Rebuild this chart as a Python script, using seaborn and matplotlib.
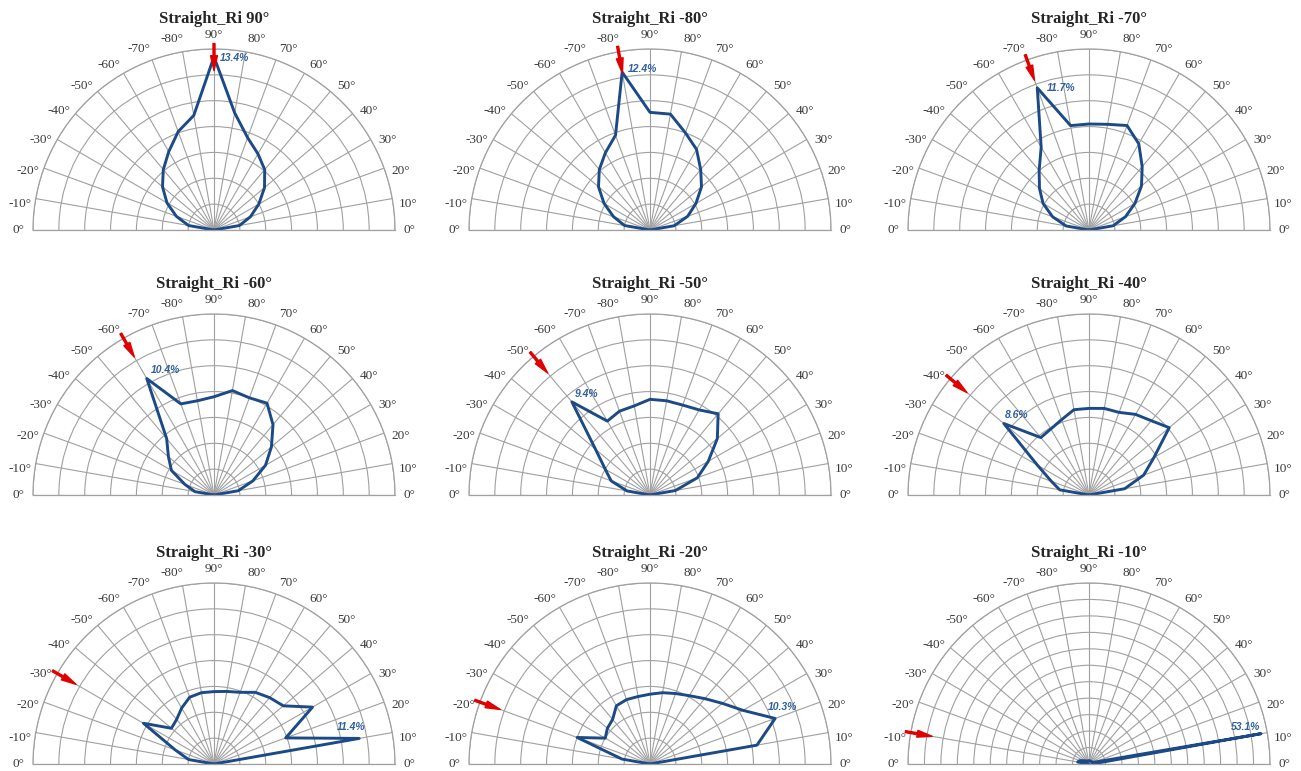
import numpy as np
import pandas as pd
import matplotlib
matplotlib.use("Agg")
import matplotlib.pyplot as plt
import seaborn as sns

sns.set_style("white")

# -----------------------------------------------------------
# DATA
# -----------------------------------------------------------
# measurement direction on the half circle: 0 = right, 90 = top, 180 = left
angle_deg = [0, 10, 20, 30, 40, 50, 60, 70, 80, 90,
             100, 110, 120, 130, 140, 150, 160, 170, 180]
angle_labels = ['0°', '10°', '20°', '30°', '40°', '50°', '60°', '70°', '80°', '90°',
                '-80°', '-70°', '-60°', '-50°', '-40°', '-30°', '-20°', '-10°', '0°']

# incidence angle of each panel (shown in the title and with the red arrow)
incidence = [90, -80, -70, -60, -50, -40, -30, -20, -10]

# share of reflected light (%) for each direction in angle_deg
ri_90 = [0, 2.0, 3.0, 4.0, 5.1, 6.1, 6.8, 7.6, 9.2, 13.4, 9.0, 8.1, 7.0, 6.1, 5.2, 4.2, 3.1, 2.0, 0]
ri_m80 = [0, 1.9, 3.1, 4.1, 5.2, 6.1, 7.2, 8.0, 9.1, 9.1, 12.4, 7.8, 6.9, 6.1, 5.2, 4.1, 3.0, 2.0, 0]
ri_m70 = [0, 1.9, 3.0, 4.1, 5.3, 6.4, 7.7, 8.6, 8.3, 8.2, 8.2, 11.7, 7.4, 6.0, 5.0, 4.1, 3.0, 1.8, 0]
ri_m60 = [0, 1.9, 3.2, 4.6, 5.8, 7.1, 8.2, 8.0, 8.2, 7.6, 7.4, 7.5, 10.4, 5.7, 4.6, 3.8, 2.4, 1.5, 0]
ri_m50 = [0, 2.0, 3.9, 5.2, 6.8, 8.2, 7.6, 7.4, 7.4, 7.4, 7.0, 6.9, 6.6, 9.4, 5.5, 4.0, 3.2, 1.8, 0]
ri_m40 = [0, 2.8, 4.5, 5.8, 8.1, 7.5, 7.2, 6.8, 6.8, 6.7, 6.7, 6.2, 5.9, 5.8, 8.6, 4.6, 3.1, 2.3, 0]
ri_m30 = [0, 11.4, 5.9, 8.8, 7.0, 6.7, 6.4, 5.9, 5.7, 5.6, 5.6, 5.5, 5.0, 4.5, 4.3, 6.3, 3.2, 2.0, 0]
ri_m20 = [0, 8.4, 10.3, 8.3, 7.3, 6.6, 6.1, 5.8, 5.6, 5.4, 5.3, 5.3, 5.2, 4.5, 4.3, 4.0, 6.0, 2.2, 0]
ri_m10 = [1.0, 53.1, 1.5, 1.2, 1.0, 1.0, 1.0, 1.0, 1.0, 1.0, 1.0, 1.0, 1.0, 1.2, 1.5, 2.0, 3.0, 3.5, 0]

series = [ri_90, ri_m80, ri_m70, ri_m60, ri_m50, ri_m40, ri_m30, ri_m20, ri_m10]

# -----------------------------------------------------------
# LAYOUT / STYLE
# -----------------------------------------------------------
W, H = 1301, 771
R = 181                      # radius of each half circle in pixels
col_x = [214, 650, 1089]     # centre x of each column
row_y = [230, 495, 764]      # centre y (baseline) of each row

line_color = '#1b4a87'
label_color = '#2f5f9f'
grid_color = '#a0a0a0'
arrow_color = '#e00000'

# percentage label: offset in points and horizontal alignment
label_offset = [(4, -1), (4, 2), (7, 0), (3, 6), (2, 6), (1, 6), (-6, 8), (5, 8), (-11, 5)]
label_ha = ['left', 'left', 'left', 'left', 'left', 'left', 'center', 'center', 'center']

fig = plt.figure(figsize=(W / 100, H / 100), dpi=100)

for i, values in enumerate(series):
    cx = col_x[i % 3]
    cy = row_y[i // 3]
    # a half-circle polar axes keeps a square box, the half circle sits in its middle
    ax = fig.add_axes([(cx - R) / W, (H - cy - R / 2) / H, 2 * R / W, 2 * R / H],
                      projection='polar')

    # the last panel has a much stronger peak, so it gets a bigger scale
    if max(values) > 20:
        rmax, step = 55, 5
    else:
        rmax, step = 14, 2

    df = pd.DataFrame({"theta": np.deg2rad(angle_deg), "r": values})
    sns.lineplot(data=df, x="theta", y="r", ax=ax, sort=False, estimator=None,
                 color=line_color, linewidth=2.1)
    ax.set_xlabel("")
    ax.set_ylabel("")

    ax.set_thetamin(0)
    ax.set_thetamax(180)
    ax.set_ylim(0, rmax)
    ax.set_yticks(np.arange(step, rmax + 0.01, step))
    ax.set_yticklabels([])
    ax.set_thetagrids(angle_deg, [''] * len(angle_deg))
    ax.grid(True, color=grid_color, linewidth=0.8)
    for s in ax.spines.values():
        s.set_color(grid_color)
        s.set_linewidth(0.9)

    # angle labels, pushed a little towards the baseline like in the original
    for a, lab in zip(angle_deg, angle_labels):
        if a in (0, 90, 180):
            shift = 0
        elif a < 90:
            shift = -2.5
        else:
            shift = 2.5
        ax.text(np.deg2rad(a + shift), 1.08 * rmax, lab, ha='center', va='center',
                fontfamily='Liberation Serif', fontsize=9.5, color='#3a3a3a', clip_on=False)

    ax.set_title(f"Straight_Ri {incidence[i]}°", fontfamily='Liberation Serif',
                 fontweight='bold', fontsize=12, y=0.811, va='center')

    # red arrow showing the incidence direction
    inc = incidence[i] if incidence[i] >= 0 else 180 + incidence[i]
    ax.annotate('', xy=(np.deg2rad(inc), 0.88 * rmax), xytext=(np.deg2rad(inc), 1.03 * rmax),
                arrowprops=dict(arrowstyle='simple,head_length=1.2,head_width=0.55,tail_width=0.16',
                                color=arrow_color, mutation_scale=9, shrinkA=0, shrinkB=0),
                annotation_clip=False)

    # label for the peak value
    k = int(np.argmax(values))
    ax.annotate(f"{values[k]:.1f}%", xy=(np.deg2rad(angle_deg[k]), values[k]),
                xytext=label_offset[i], textcoords='offset points',
                ha=label_ha[i], va='center', fontfamily='Liberation Sans',
                fontstyle='italic', fontweight='bold', fontsize=7.5, color=label_color,
                annotation_clip=False)

fig.savefig("out.png", dpi=100)
